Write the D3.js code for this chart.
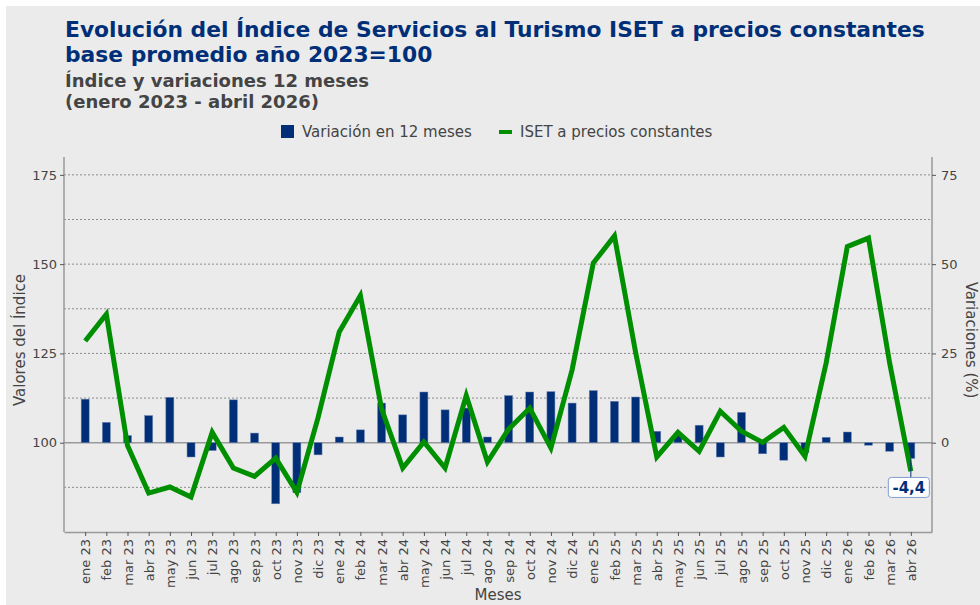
<!DOCTYPE html>
<html>
<head>
<meta charset="utf-8">
<script src="https://cdn.jsdelivr.net/npm/d3@7"></script>
<style>
  body { margin: 0; background: #ffffff; }
  svg { display: block; font-family: "DejaVu Sans", sans-serif; }
</style>
</head>
<body>
<svg id="chart" width="980" height="605"></svg>
<script>
//////////////////// DATA ////////////////////
const months = [
    "ene 23", "feb 23", "mar 23", "abr 23", "may 23", "jun 23", "jul 23", "ago 23", "sep 23", "oct 23", "nov 23", "dic 23",
    "ene 24", "feb 24", "mar 24", "abr 24", "may 24", "jun 24", "jul 24", "ago 24", "sep 24", "oct 24", "nov 24", "dic 24",
    "ene 25", "feb 25", "mar 25", "abr 25", "may 25", "jun 25", "jul 25", "ago 25", "sep 25", "oct 25", "nov 25", "dic 25",
    "ene 26", "feb 26", "mar 26", "abr 26"
];

// ISET a precios constantes (left axis)
const isetValues = [
    128.5, 136.0, 99.2, 85.9, 87.6, 84.8, 102.9, 92.9, 90.6, 95.7, 86.1, 107.0,
    131.0, 141.2, 109.5, 92.9, 100.2, 92.9, 113.2, 94.6, 103.8, 109.7, 98.5, 120.4,
    150.3, 157.9, 125.3, 96.0, 102.9, 97.6, 108.8, 103.2, 100.1, 104.3, 96.2, 122.3,
    154.9, 157.3, 122.3, 92.0
];

// Variación en 12 meses, % (right axis)
const varValues = [
    12.2, 5.7, 2.0, 7.6, 12.7, -4.0, -2.2, 12.0, 2.7, -17.1, -14.0, -3.4,
    1.6, 3.6, 11.1, 7.8, 14.2, 9.2, 9.7, 1.6, 13.2, 14.2, 14.3, 11.1,
    14.6, 11.6, 12.8, 3.2, 2.5, 4.9, -4.0, 8.5, -3.1, -4.9, -2.7, 1.5,
    3.0, -0.7, -2.4, -4.4
];

const leftTicks = [100, 125, 150, 175];
const rightTicks = [0, 25, 50, 75];
const gridValues = [87.5, 112.5, 125, 137.5, 150, 162.5, 175];

//////////////////// SIZES ////////////////////
const plot = { left: 64, right: 932, top: 157, bottom: 532 };

const colors = {
    bg: "#ebebeb",
    bar: "#002f78",
    line: "#008f00",
    title: "#002f78",
    text: "#444444",
    axis: "#999999"
};

const svg = d3.select("#chart");

// background panel
svg.append("rect")
    .attr("x", 6).attr("y", 6)
    .attr("width", 974).attr("height", 599)
    .attr("fill", colors.bg);

//////////////////// SCALES ////////////////////
const x = d3.scalePoint()
    .domain(months)
    .range([plot.left, plot.right])
    .padding(1);

const yLeft = d3.scaleLinear()
    .domain([75, 180])
    .range([plot.bottom, plot.top]);

const yRight = d3.scaleLinear()
    .domain([-25, 80])
    .range([plot.bottom, plot.top]);

//////////////////// TITLES ////////////////////
svg.append("text")
    .attr("x", 65).attr("y", 37)
    .attr("font-size", 21.8).attr("font-weight", "bold")
    .attr("fill", colors.title)
    .text("Evolución del Índice de Servicios al Turismo ISET a precios constantes");

svg.append("text")
    .attr("x", 65).attr("y", 62)
    .attr("font-size", 21.8).attr("font-weight", "bold")
    .attr("fill", colors.title)
    .text("base promedio año 2023=100");

svg.append("text")
    .attr("x", 65).attr("y", 87)
    .attr("font-size", 18).attr("font-weight", "bold")
    .attr("fill", colors.text)
    .text("Índice y variaciones 12 meses");

svg.append("text")
    .attr("x", 65).attr("y", 107.5)
    .attr("font-size", 18).attr("font-weight", "bold")
    .attr("fill", colors.text)
    .text("(enero 2023 - abril 2026)");

//////////////////// LEGEND ////////////////////
svg.append("rect")
    .attr("x", 281).attr("y", 125)
    .attr("width", 13).attr("height", 13)
    .attr("fill", colors.bar);

svg.append("text")
    .attr("x", 302).attr("y", 137)
    .attr("font-size", 15).attr("fill", colors.text)
    .text("Variación en 12 meses");

svg.append("line")
    .attr("x1", 499).attr("x2", 512)
    .attr("y1", 132).attr("y2", 132)
    .attr("stroke", colors.line).attr("stroke-width", 4);

svg.append("text")
    .attr("x", 520).attr("y", 137)
    .attr("font-size", 15).attr("fill", colors.text)
    .text("ISET a precios constantes");

//////////////////// GRID ////////////////////
svg.append("g")
    .selectAll("line")
    .data(gridValues)
    .join("line")
    .attr("x1", plot.left).attr("x2", plot.right)
    .attr("y1", d => yLeft(d)).attr("y2", d => yLeft(d))
    .attr("stroke", "#8c8c8c")
    .attr("stroke-width", 1)
    .attr("stroke-dasharray", "2,2");

// zero / base line
svg.append("line")
    .attr("x1", plot.left).attr("x2", plot.right)
    .attr("y1", yLeft(100)).attr("y2", yLeft(100))
    .attr("stroke", colors.axis).attr("stroke-width", 1.5);

//////////////////// BARS ////////////////////
const barWidth = 8;
svg.append("g")
    .selectAll("rect")
    .data(varValues)
    .join("rect")
    .attr("x", (d, i) => x(months[i]) - barWidth / 2)
    .attr("y", d => yRight(Math.max(0, d)))
    .attr("width", barWidth)
    .attr("height", d => Math.abs(yRight(d) - yRight(0)))
    .attr("fill", colors.bar)
    .attr("stroke", "#6f86b4")
    .attr("stroke-width", 0.5);

//////////////////// LINE ////////////////////
const line = d3.line()
    .x((d, i) => x(months[i]))
    .y(d => yLeft(d));

svg.append("path")
    .datum(isetValues)
    .attr("d", line)
    .attr("fill", "none")
    .attr("stroke", colors.line)
    .attr("stroke-width", 5)
    .attr("stroke-linejoin", "miter");

//////////////////// AXES ////////////////////
const axisLeft = svg.append("g")
    .attr("transform", `translate(${plot.left},0)`)
    .call(d3.axisLeft(yLeft).tickValues(leftTicks).tickSize(4).tickPadding(3));

const axisRight = svg.append("g")
    .attr("transform", `translate(${plot.right},0)`)
    .call(d3.axisRight(yRight).tickValues(rightTicks).tickSize(4).tickPadding(5));

const axisBottom = svg.append("g")
    .attr("transform", `translate(0,${plot.bottom})`)
    .call(d3.axisBottom(x).tickSize(4).tickSizeOuter(0));

axisBottom.selectAll("text")
    .attr("transform", "rotate(-90)")
    .attr("text-anchor", "end")
    .attr("x", -7)
    .attr("y", 0)
    .attr("dy", "0.35em");

[axisLeft, axisRight, axisBottom].forEach(g => {
    g.select(".domain").attr("stroke", colors.axis).attr("stroke-width", 1.5);
    g.selectAll(".tick line").attr("stroke", "#555");
    g.selectAll("text")
        .attr("font-family", "DejaVu Sans, sans-serif")
        .attr("font-size", 13)
        .attr("fill", colors.text);
});

// left and right domains without outer ticks at top
axisLeft.select(".domain").attr("d", `M0,${plot.top}V${plot.bottom}`);
axisRight.select(".domain").attr("d", `M0,${plot.top}V${plot.bottom}`);

//////////////////// AXIS TITLES ////////////////////
svg.append("text")
    .attr("transform", "translate(25,340) rotate(-90)")
    .attr("text-anchor", "middle")
    .attr("font-size", 15).attr("fill", colors.text)
    .text("Valores del Índice");

svg.append("text")
    .attr("transform", "translate(966,340) rotate(90)")
    .attr("text-anchor", "middle")
    .attr("font-size", 15).attr("fill", colors.text)
    .text("Variaciones (%)");

svg.append("text")
    .attr("x", 498).attr("y", 600)
    .attr("text-anchor", "middle")
    .attr("font-size", 15).attr("fill", colors.text)
    .text("Meses");

//////////////////// LAST VALUE LABEL ////////////////////
const lastIdx = varValues.length - 1;
const lastX = x(months[lastIdx]);
const lastY = yRight(varValues[lastIdx]);

svg.append("line")
    .attr("x1", lastX).attr("x2", lastX)
    .attr("y1", lastY).attr("y2", lastY + 19)
    .attr("stroke", colors.bar).attr("stroke-width", 1);

svg.append("rect")
    .attr("x", lastX - 22.5).attr("y", lastY + 19)
    .attr("width", 41).attr("height", 20)
    .attr("rx", 3)
    .attr("fill", "#ffffff")
    .attr("stroke", "#7f9ccb");

svg.append("text")
    .attr("x", lastX - 2).attr("y", lastY + 35)
    .attr("text-anchor", "middle")
    .attr("font-size", 15).attr("font-weight", "bold")
    .attr("fill", colors.bar)
    .text(String(varValues[lastIdx]).replace(".", ","));
</script>
</body>
</html>
